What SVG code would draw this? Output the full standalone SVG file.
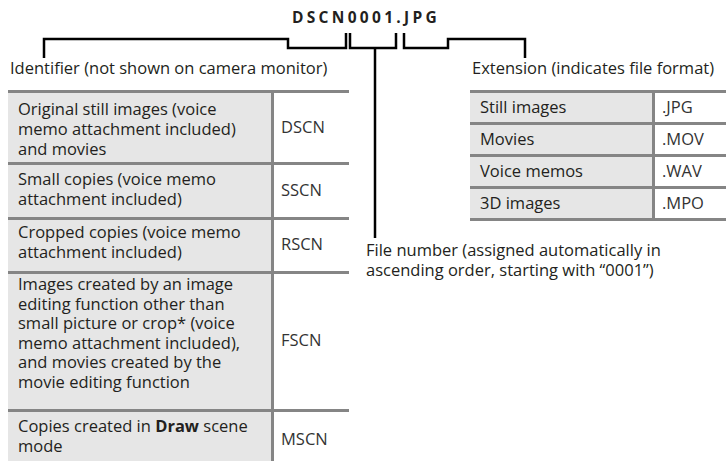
<svg xmlns="http://www.w3.org/2000/svg" width="726" height="461" viewBox="0 0 726 461">
<style>
text{font-family:"Open Sans","Liberation Sans",sans-serif;fill:#231f20;font-size:16.5px}
.title{font-weight:bold;font-size:15.5px;letter-spacing:3.3px}
.code{fill:#333}
.fill{fill:#e6e6e6}
.rule{stroke:#858585;stroke-width:3;fill:none}
.br{stroke:#000;stroke-width:2.5;fill:none}
</style>
<rect width="726" height="461" fill="#fff"/>
<text class="title" x="292" y="23">DSCN0001.JPG</text>
<g id="connectors">
<path class="br" d="M44,58 V39 H288 V48 H346 V33"/>
<path class="br" d="M350,33 V48 H396 V33"/>
<path class="br" d="M375,48 V238"/>
<path class="br" d="M404,33 V48 H448 V39 H525 V58"/>
</g>
<g id="identifier">
<text x="10" y="74">Identifier (not shown on camera monitor)</text>
<rect class="fill" x="8" y="91" width="264" height="370"/>
<path class="rule" d="M8,91.5 H349 M8,163.5 H349 M8,218.5 H349 M8,272.5 H349 M8,410.5 H349 M272.5,91 V461"/>
<text x="18" y="115">Original still images (voice</text>
<text x="18" y="135">memo attachment included)</text>
<text x="18" y="155">and movies</text>
<text class="code" x="281" y="133">DSCN</text>
<text x="18" y="185">Small copies (voice memo</text>
<text x="18" y="205">attachment included)</text>
<text class="code" x="281" y="196">SSCN</text>
<text x="18" y="238">Cropped copies (voice memo</text>
<text x="18" y="258">attachment included)</text>
<text class="code" x="281" y="250">RSCN</text>
<text x="18" y="290">Images created by an image</text>
<text x="18" y="309.5">editing function other than</text>
<text x="18" y="329">small picture or crop* (voice</text>
<text x="18" y="348.5">memo attachment included),</text>
<text x="18" y="368">and movies created by the</text>
<text x="18" y="387.5">movie editing function</text>
<text class="code" x="281" y="346">FSCN</text>
<text x="18" y="432">Copies created in <tspan font-weight="bold">Draw</tspan> scene</text>
<text x="18" y="452">mode</text>
<text class="code" x="281" y="445">MSCN</text>
</g>
<g id="filenumber">
<text x="366" y="256">File number (assigned automatically in</text>
<text x="366" y="276">ascending order, starting with “0001”)</text>
</g>
<g id="extension">
<text x="472" y="74">Extension (indicates file format)</text>
<rect class="fill" x="470" y="91" width="183" height="128"/>
<path class="rule" d="M470,91.5 H726 M470,123.5 H726 M470,155.5 H726 M470,187.5 H726 M470,219.5 H726 M653.5,91 V219"/>
<text x="480" y="113">Still images</text>
<text class="code" x="662" y="113">.JPG</text>
<text x="480" y="145">Movies</text>
<text class="code" x="662" y="145">.MOV</text>
<text x="480" y="177">Voice memos</text>
<text class="code" x="662" y="177">.WAV</text>
<text x="480" y="209">3D images</text>
<text class="code" x="662" y="209">.MPO</text>
</g>
</svg>
